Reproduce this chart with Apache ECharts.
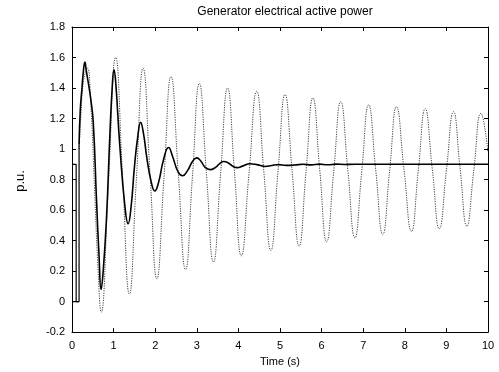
<!DOCTYPE html>
<html>
<head>
<meta charset="utf-8">
<script src="https://cdn.jsdelivr.net/npm/echarts@6/dist/echarts.min.js"></script>
<style>
  html, body { margin: 0; padding: 0; background: #fff; }
  #chart { width: 499px; height: 372px; }
</style>
</head>
<body>
<div id="chart"></div>
<script>
// Axis ticks
const xTicks = [0, 10, 1];      // min, max, step (s)
const yTicks = [-0.2, 1.8, 0.2]; // min, max, step (p.u.)

// Pre-fault / fault segment (drawn straight, no smoothing)
const stepSolidT = [0, 0.1, 0.1, 0.17, 0.17];
const stepSolidP = [0.9, 0.9, 0, 0, 1.03];
const stepDotT = [0, 0.17];
const stepDotP = [0, 0];

// Post-fault response, solid trace
const solidT = [0.17, 0.20, 0.24, 0.27, 0.31, 0.34, 0.37, 0.40, 0.45, 0.51, 0.59, 0.65, 0.70, 0.75,
  0.83, 0.91, 0.97, 1.01, 1.05, 1.15, 1.27, 1.35, 1.42, 1.50, 1.58, 1.65, 1.72, 1.80, 1.90, 1.99,
  2.08, 2.20, 2.32, 2.42, 2.55, 2.66, 2.78, 2.90, 3.00, 3.10, 3.20, 3.32, 3.45, 3.55, 3.65, 3.75,
  3.86, 3.97, 4.10, 4.28, 4.45, 4.64, 4.80, 4.96, 5.15, 5.35, 5.55, 5.75, 5.95, 6.15, 6.35, 6.55,
  6.80, 10.0];
const solidP = [1.03, 1.26, 1.40, 1.50, 1.57, 1.52, 1.47, 1.42, 1.33, 1.18, 0.66, 0.30, 0.08, 0.20,
  0.55, 1.09, 1.42, 1.52, 1.44, 1.02, 0.63, 0.51, 0.62, 0.88, 1.08, 1.175, 1.10, 0.94, 0.79, 0.725,
  0.78, 0.93, 1.01, 0.95, 0.85, 0.825, 0.86, 0.92, 0.942, 0.92, 0.88, 0.865, 0.88, 0.905, 0.918, 0.91,
  0.888, 0.878, 0.888, 0.904, 0.898, 0.886, 0.892, 0.898, 0.893, 0.895, 0.9, 0.896, 0.901, 0.897, 0.901, 0.899,
  0.9, 0.9];

// Post-fault response, dotted trace
const dotT = [0.17, 0.22, 0.28, 0.37, 0.45, 0.54, 0.62, 0.70, 0.875, 1.05, 1.215, 1.38,
  1.545, 1.71, 1.875, 2.04, 2.21, 2.38, 2.555, 2.73, 2.895, 3.06, 3.23, 3.40,
  3.57, 3.74, 3.905, 4.07, 4.255, 4.44, 4.61, 4.78, 4.95, 5.12, 5.29, 5.46,
  5.625, 5.79, 5.955, 6.12, 6.29, 6.46, 6.63, 6.80, 6.965, 7.13, 7.30, 7.47,
  7.635, 7.80, 7.98, 8.16, 8.325, 8.49, 8.66, 8.83, 9.0, 9.17, 9.33, 9.49,
  9.66, 9.83, 10.0];
const dotP = [1.0, 1.25, 1.45, 1.53, 1.30, 0.75, 0.25, -0.07, 0.77, 1.60, 0.83, 0.05,
  0.79, 1.53, 0.84, 0.15, 0.81, 1.475, 0.84, 0.21, 0.82, 1.43, 0.845, 0.26,
  0.83, 1.40, 0.85, 0.30, 0.84, 1.378, 0.857, 0.336, 0.846, 1.357, 0.86, 0.364,
  0.85, 1.335, 0.864, 0.392, 0.85, 1.31, 0.864, 0.418, 0.854, 1.29, 0.865, 0.44,
  0.858, 1.277, 0.868, 0.46, 0.862, 1.264, 0.87, 0.478, 0.86, 1.245, 0.87, 0.494,
  0.865, 1.234, 0.98];

const zip = (t, v) => t.map((x, i) => [x, v[i]]);

const FONT = '"Liberation Sans", Arial, sans-serif';
const GRID = { left: 72, right: 11, top: 27, bottom: 36 };

const chart = echarts.init(document.getElementById('chart'), null, { renderer: 'canvas' });

function xAxisDef(pos, showLabel) {
  return {
    type: 'value', position: pos, min: xTicks[0], max: xTicks[1], interval: xTicks[2],
    axisLine: { show: true, onZero: false, lineStyle: { color: '#000', width: 1 } },
    axisTick: { show: true, inside: true, length: 4, lineStyle: { color: '#000' } },
    axisLabel: { show: showLabel, color: '#000', fontFamily: FONT, fontSize: 11, margin: 8 },
    splitLine: { show: false }
  };
}
function yAxisDef(pos, showLabel) {
  return {
    type: 'value', position: pos, min: yTicks[0], max: yTicks[1], interval: yTicks[2],
    axisLine: { show: true, onZero: false, lineStyle: { color: '#000', width: 1 } },
    axisTick: { show: true, inside: true, length: 4, lineStyle: { color: '#000' } },
    axisLabel: { show: showLabel, color: '#000', fontFamily: FONT, fontSize: 11, margin: 7 },
    splitLine: { show: false }
  };
}

const xBottom = xAxisDef('bottom', true);
xBottom.name = 'Time (s)';
xBottom.nameLocation = 'middle';
xBottom.nameGap = 22;
xBottom.nameTextStyle = { color: '#000', fontFamily: FONT, fontSize: 11 };

chart.setOption({
  animation: false,
  backgroundColor: '#fff',
  title: {
    text: 'Generator electrical active power',
    left: 280, top: 1, textAlign: 'center',
    textStyle: { color: '#000', fontFamily: FONT, fontSize: 12, fontWeight: 'normal' }
  },
  grid: GRID,
  xAxis: [xBottom, xAxisDef('top', false)],
  yAxis: [yAxisDef('left', true), yAxisDef('right', false)],
  graphic: [{
    type: 'text', x: 20, y: 181, rotation: Math.PI / 2,
    style: { text: 'p.u.', fill: '#000', font: '13px ' + FONT, align: 'center', verticalAlign: 'middle' }
  }],
  series: [
    {
      type: 'line', data: zip(dotT, dotP), smooth: 0.5, showSymbol: false,
      lineStyle: { color: '#444', width: 1, type: [1.2, 1.2] }
    },
    {
      type: 'line', data: zip(stepDotT, stepDotP), showSymbol: false,
      lineStyle: { color: '#000', width: 1.2 }
    },
    {
      type: 'line', data: zip(stepSolidT, stepSolidP), showSymbol: false,
      lineStyle: { color: '#000', width: 1.2 }
    },
    {
      type: 'line', data: zip(solidT, solidP), smooth: 0.5, showSymbol: false,
      lineStyle: { color: '#000', width: 1.6 }
    }
  ]
});
</script>
</body>
</html>
